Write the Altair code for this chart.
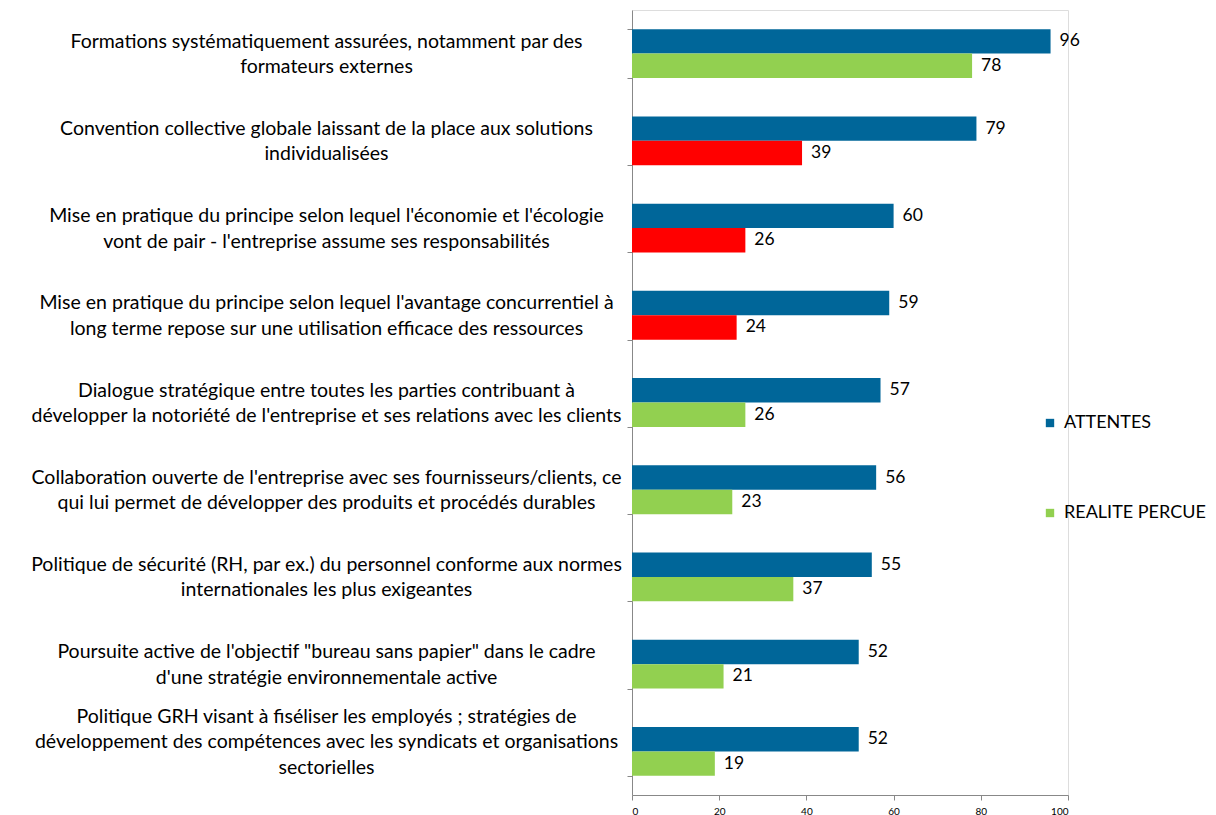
import altair as alt
import pandas as pd

categories = [
    "Formations systématiquement assurées, notamment par des|formateurs externes",
    "Convention collective globale laissant de la place aux solutions|individualisées",
    "Mise en pratique du principe selon lequel l'économie et l'écologie|vont de pair - l'entreprise assume ses responsabilités",
    "Mise en pratique du principe selon lequel l'avantage concurrentiel à|long terme repose sur une utilisation efficace des ressources",
    "Dialogue stratégique entre toutes les parties contribuant à|développer la notoriété de l'entreprise et ses relations avec les clients",
    "Collaboration ouverte de l'entreprise avec ses fournisseurs/clients, ce|qui lui permet de développer des produits et procédés durables",
    "Politique de sécurité (RH, par ex.) du personnel conforme aux normes|internationales les plus exigeantes",
    "Poursuite active de l'objectif \"bureau sans papier\" dans le cadre|d'une stratégie environnementale active",
    "Politique GRH visant à fiséliser les employés ; stratégies de|développement des compétences avec les syndicats et organisations|sectorielles",
]
attentes = [96, 79, 60, 59, 57, 56, 55, 52, 52]
realite = [78, 39, 26, 24, 26, 23, 37, 21, 19]
ecart = [False, True, True, True, False, False, False, False, False]

series_names = ["ATTENTES", "REALITE PERCUE"]
BLUE = "#006699"
GREEN = "#92D050"
RED = "#FF0000"

rows = []
for c, a, r, e in zip(categories, attentes, realite, ecart):
    rows.append({"cat": c, "series": "ATTENTES", "value": a, "colcat": "ATTENTES"})
    rows.append({"cat": c, "series": "REALITE PERCUE", "value": r,
                 "colcat": "ECART" if e else "REALITE PERCUE"})
df = pd.DataFrame(rows)

FONT = "Lato"
LINE_H = 25.5

y = alt.Y(
    "cat:N",
    sort=categories,
    scale=alt.Scale(paddingInner=0.44, paddingOuter=0.22),
    axis=alt.Axis(
        title=None,
        labelExpr="split(datum.label, '|')",
        labelAlign="center",
        labelBaseline="middle",
        labelPadding=301,
        labelLineHeight=LINE_H,
        labelOffset={
            "condition": {"test": "length(split(datum.value, '|')) > 2", "value": -35},
            "value": -12.5,
        },
        labelFontSize=19.5,
        labelFont=FONT,
        labelColor="#000000",
        labelLimit=800,
        tickBand="extent",
        tickSize=5,
        tickColor="#888888",
        domainColor="#888888",
        grid=False,
    ),
)
yoff = alt.YOffset("series:N", sort=series_names, scale=alt.Scale(paddingInner=0, paddingOuter=0))
x = alt.X(
    "value:Q",
    scale=alt.Scale(domain=[0, 100], nice=False),
    axis=alt.Axis(
        title=None,
        values=[0, 20, 40, 60, 80, 100],
        tickSize=5,
        tickColor="#888888",
        domainColor="#888888",
        labelFontSize=10,
        labelFont=FONT,
        labelColor="#000000",
        labelPadding=6,
        grid=False,
    ),
)

bars = alt.Chart(df).mark_bar().encode(
    y=y,
    yOffset=yoff,
    x=x,
    color=alt.Color(
        "colcat:N",
        scale=alt.Scale(domain=["ATTENTES", "REALITE PERCUE", "ECART"], range=[BLUE, GREEN, RED]),
        legend=alt.Legend(
            title=None,
            values=["ATTENTES", "REALITE PERCUE"],
            orient="none",
            legendX=409,
            legendY=404,
            symbolType="square",
            symbolSize=70,
            symbolStrokeWidth=0,
            labelFontSize=18,
            labelFont=FONT,
            labelColor="#000000",
            rowPadding=72,
            labelOffset=5,
        ),
    ),
)

labels = alt.Chart(df).mark_text(
    align="left", baseline="middle", dx=9, fontSize=17.5, font=FONT, color="#000000"
).encode(
    y=y,
    yOffset=yoff,
    x=x,
    text=alt.Text("value:Q"),
)

chart = (
    alt.layer(bars, labels)
    .properties(
        width=436,
        height=785,
        autosize=alt.AutoSizeParams(type="none"),
        padding={"left": 624, "top": 2, "right": 140, "bottom": 20},
    )
    .configure_view(stroke=None)
    .configure(background="white")
)

chart.save("out.html", embed_options={"renderer": "svg", "actions": False})
